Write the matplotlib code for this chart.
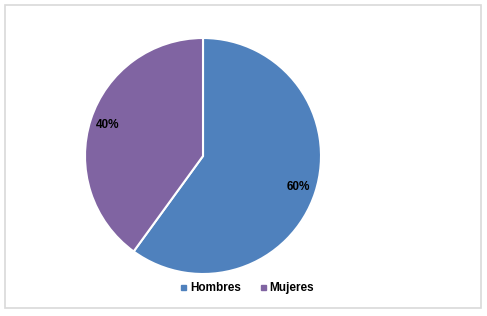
import matplotlib.pyplot as plt
from matplotlib.lines import Line2D
from matplotlib.patches import Rectangle

plt.rcParams["font.family"] = ["Liberation Sans", "DejaVu Sans"]

categories = ["Hombres", "Mujeres"]
values = [60, 40]
colors = ["#4F81BD", "#8064A2"]

W, H = 487, 316
fig = plt.figure(figsize=(W / 100, H / 100), dpi=100)

# chart border
fig.patches.append(Rectangle((5 / W, 8 / H), 476 / W, 303 / H, transform=fig.transFigure,
                             fill=False, edgecolor="#D9D9D9", linewidth=1.2))

cx, cy, r = 203, 316 - 156, 118
ax = fig.add_axes([(cx - r) / W, (cy - r) / H, 2 * r / W, 2 * r / H])
wedges, texts, autotexts = ax.pie(
    values, colors=colors, startangle=90, counterclock=False,
    autopct="%d%%", pctdistance=0.85,
    wedgeprops=dict(edgecolor="white", linewidth=1.5),
    textprops=dict(fontsize=8.5, fontweight="bold", color="black"),
)
ax.set_xlim(-1, 1)
ax.set_ylim(-1, 1)
ax.set_aspect("equal")
ax.axis("off")

handles = [Line2D([], [], marker="s", linestyle="", markersize=3.6, color=c) for c in colors]
fig.legend(handles, categories, loc="center", bbox_to_anchor=(247 / W, (316 - 288) / H),
           ncol=2, frameon=False, handlelength=0.6, handletextpad=0.3, columnspacing=1.5,
           prop=dict(size=8.5, weight="bold"))

fig.savefig("out.png", dpi=100)
